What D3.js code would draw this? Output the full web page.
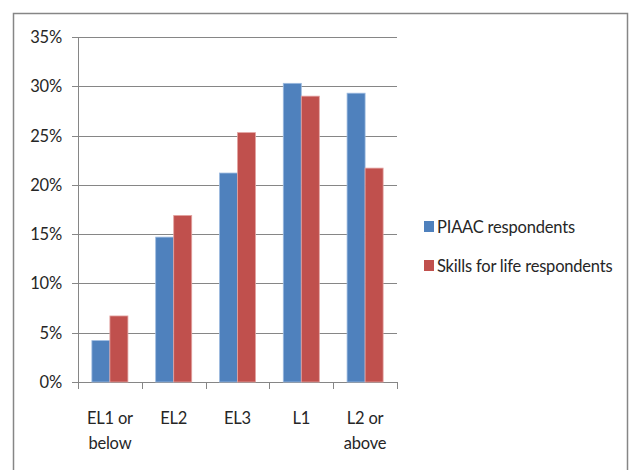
<!DOCTYPE html>
<meta charset="utf-8">
<style>
body { margin: 0; background: #fff; }
text { font-family: Lato, "Liberation Sans", sans-serif; font-size: 16.5px; letter-spacing: -0.2px; fill: #262626; }
.grid line { stroke: #868686; stroke-width: 1px; }
</style>
<body>
<script src="https://d3js.org/d3.v7.min.js"></script>
<script>

// data
var categories = ["EL1 or below", "EL2", "EL3", "L1", "L2 or above"];
var catLines = [["EL1 or", "below"], ["EL2"], ["EL3"], ["L1"], ["L2 or", "above"]];
var series = ["PIAAC respondents", "Skills for life respondents"];
var piaac = [0.042, 0.147, 0.212, 0.303, 0.293];
var sfl = [0.067, 0.169, 0.253, 0.290, 0.217];
var yTicks = [0, 0.05, 0.10, 0.15, 0.20, 0.25, 0.30, 0.35];
var colors = ["#4f81bd", "#c0504d"];
var edges = ["#9dbbe0", "#e3a3a1"];

(function() {
var W = 635, H = 470;
var pLeft = 78, pRight = 397, pTop = 37, pBottom = 382;

var svg = d3.select("body").append("svg")
    .attr("width", W)
    .attr("height", H);

// outer frame
svg.append("rect")
    .attr("x", 13.5).attr("y", 13.5)
    .attr("width", 614).attr("height", 470)
    .attr("fill", "none")
    .attr("stroke", "#868686")
    .attr("stroke-width", 1.5);

var x = d3.scaleBand().domain(categories).range([pLeft, pRight]);
var x1 = d3.scaleBand().domain(series).range([0, x.bandwidth()]).paddingOuter(0.77);
var y = d3.scaleLinear().domain([0, 0.35]).range([pBottom, pTop]);

// gridlines + y axis
var g = svg.append("g").attr("class", "grid");
g.selectAll("line.h")
    .data(yTicks)
  .enter().append("line")
    .attr("class", "h")
    .attr("x1", pLeft - 6).attr("x2", pRight)
    .attr("y1", function(d) { return Math.round(y(d)) + 0.5; })
    .attr("y2", function(d) { return Math.round(y(d)) + 0.5; });
g.append("line")
    .attr("x1", pLeft + 0.5).attr("x2", pLeft + 0.5)
    .attr("y1", pTop).attr("y2", pBottom + 7);
g.selectAll("line.t")
    .data(categories)
  .enter().append("line")
    .attr("class", "t")
    .attr("x1", function(d) { return Math.round(x(d) + x.bandwidth()) + 0.5; })
    .attr("x2", function(d) { return Math.round(x(d) + x.bandwidth()) + 0.5; })
    .attr("y1", pBottom).attr("y2", pBottom + 7);

svg.selectAll("text.ytick")
    .data(yTicks)
  .enter().append("text")
    .attr("class", "ytick")
    .attr("x", pLeft - 16)
    .attr("y", function(d) { return y(d) + 6; })
    .attr("text-anchor", "end")
    .text(function(d) { return d3.format(".0%")(d); });

// bars
var table = categories.map(function(c, i) {
  return {cat: c, vals: [piaac[i], sfl[i]]};
});
var grp = svg.selectAll("g.cat")
    .data(table)
  .enter().append("g")
    .attr("class", "cat")
    .attr("transform", function(d) { return "translate(" + x(d.cat) + ",0)"; });
grp.selectAll("rect")
    .data(function(d) { return d.vals.map(function(v, j) { return {s: series[j], v: v, j: j}; }); })
  .enter().append("rect")
    .attr("x", function(d) { return x1(d.s); })
    .attr("width", x1.bandwidth())
    .attr("y", function(d) { return y(d.v); })
    .attr("height", function(d) { return pBottom - y(d.v); })
    .attr("fill", function(d) { return colors[d.j]; })
    .attr("stroke", function(d) { return edges[d.j]; })
    .attr("stroke-width", 0.8);

// category labels
svg.selectAll("text.cat")
    .data(categories)
  .enter().append("text")
    .attr("class", "cat")
    .attr("text-anchor", "middle")
    .attr("x", function(d) { return x(d) + x.bandwidth() / 2; })
    .attr("y", 424)
    .each(function(d, i) {
      var t = d3.select(this);
      catLines[i].forEach(function(line, k) {
        t.append("tspan")
          .attr("x", x(d) + x.bandwidth() / 2)
          .attr("dy", k === 0 ? 0 : 25)
          .text(line);
      });
    });

// legend
var legend = svg.append("g").attr("transform", "translate(424,221)");
series.forEach(function(s, i) {
  legend.append("rect")
    .attr("x", 0).attr("y", i * 39)
    .attr("width", 10).attr("height", 11)
    .attr("fill", colors[i]);
  legend.append("text")
    .attr("x", 13).attr("y", i * 39 + 12)
    .text(s);
});
})();
</script>
</body>
